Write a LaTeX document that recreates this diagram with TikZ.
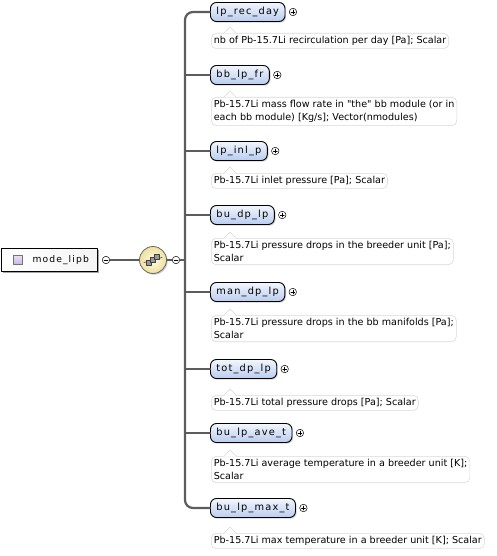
\documentclass[tikz,border=0pt]{standalone}
\usepackage{fontspec}
\setmainfont[Ligatures=TeXOff]{DejaVu Sans}
\newfontfamily\elemfont[LetterSpace=12]{DejaVu Sans}
\usetikzlibrary{shadows,positioning}
\definecolor{elemtop}{HTML}{F2F6FD}
\definecolor{elembot}{HTML}{B9CCEE}
\definecolor{busgray}{HTML}{5C5C5C}
\definecolor{descline}{HTML}{DADADA}
\definecolor{seqin}{HTML}{FFFCE4}
\definecolor{seqout}{HTML}{EEE0A0}
\definecolor{lilac}{HTML}{C4B4E6}
\tikzset{
  elem/.style={draw=black, line width=0.9pt, rounded corners=6pt, top color=elemtop, bottom color=elembot,
    minimum height=19pt, inner xsep=6pt, inner ysep=0pt, font=\elemfont\fontsize{9.8}{10}\selectfont,
    drop shadow={shadow xshift=1.2pt, shadow yshift=-1.2pt, fill=black!35}},
  desc/.style={draw=descline, line width=0.6pt, rounded corners=5pt, fill=white, align=left,
    inner xsep=2.5pt, inner ysep=3pt, font=\fontsize{9.6}{13}\selectfont},
  pm/.style={circle, draw=black, line width=0.5pt, fill=white, minimum size=7.5pt, inner sep=0pt},
  bus/.style={draw=busgray, line width=2.2pt},
  link/.style={draw=busgray, line width=1.3pt}
}
\newcommand{\plusmark}[1]{\draw[line width=0.5pt] ([xshift=-2pt]#1.center) -- ([xshift=2pt]#1.center) ([yshift=-2pt]#1.center) -- ([yshift=2pt]#1.center);}
\newcommand{\minusmark}[1]{\draw[line width=0.5pt] ([xshift=-2pt]#1.center) -- ([xshift=2pt]#1.center);}
\begin{document}
\begin{tikzpicture}[x=1pt, y=-1pt, line join=round, line cap=round]
\useasboundingbox (0,0) rectangle (496,556);
\path
(185,260) coordinate (spine)
;

% root element
\node[draw=black, line width=0.8pt, left color=white, right color=black!4, minimum width=96pt, minimum height=23pt,
  inner sep=0pt, drop shadow={shadow xshift=1.5pt, shadow yshift=-1.5pt, fill=black!70}] (mode) at (49,260) {};
\node[draw=black!55, line width=0.5pt, top color=lilac!40, bottom color=lilac, minimum size=9pt, inner sep=0pt]
  (modeicon) at (18,260) {};
\node[anchor=west, font=\elemfont\fontsize{9.2}{10}\selectfont] (modelabel) at (29,260) {mode\_lipb};
\node[pm] (modemin) at (106,260) {};
\minusmark{modemin}

% sequence compositor
\node[circle, draw=black!60, line width=0.8pt, inner color=seqin, outer color=seqout, minimum size=27pt, inner sep=0pt,
  drop shadow={shadow xshift=1.2pt, shadow yshift=-1.2pt, fill=black!40}] (seq) at (153,260) {};
\draw[black!70, line width=0.7pt] ([xshift=-9pt, yshift=-2.5pt]seq.center) -- ([xshift=9pt, yshift=2.5pt]seq.center);
\foreach \d in {-4,0,4}
  \draw[black!75, fill=black!40, line width=0.5pt] ([xshift={\d*1pt-2.5pt}, yshift={\d*0.7pt-2.5pt}]seq.center) rectangle ++(5pt,5pt);
\node[pm] (seqmin) at (176,260) {};
\minusmark{seqmin}

\draw[link] (modemin) -- (seq);
\draw[link] (seq) -- (seqmin);
\draw[bus] (seqmin.east) -- (spine);

% children
\foreach \n/\t/\y/\d/\ty in {
  rec/lp\_rec\_day/12/{nb of Pb-15.7Li recirculation per day [Pa]; Scalar}/33,
  fr/bb\_lp\_fr/75/{Pb-15.7Li mass flow rate in "the" bb module (or in\\each bb module) [Kg/s]; Vector(nmodules)}/97,
  inl/lp\_inl\_p/151/{Pb-15.7Li inlet pressure [Pa]; Scalar}/173,
  budp/bu\_dp\_lp/215/{Pb-15.7Li pressure drops in the breeder unit [Pa];\\Scalar}/238,
  mandp/man\_dp\_lp/292/{Pb-15.7Li pressure drops in the bb manifolds [Pa];\\Scalar}/315,
  totdp/tot\_dp\_lp/369/{Pb-15.7Li total pressure drops [Pa]; Scalar}/395,
  avet/bu\_lp\_ave\_t/433/{Pb-15.7Li average temperature in a breeder unit [K];\\Scalar}/456,
  maxt/bu\_lp\_max\_t/508/{Pb-15.7Li max temperature in a breeder unit [K]; Scalar}/533}
{
  \node[elem, anchor=west] (\n) at (210,\y) {\t};
  \node[pm, right=3.5pt of \n] (\n plus) {};
  \plusmark{\n plus}
  \node[desc, anchor=north west] (\n desc) at (211,\ty) {\d};
  \fill[white] ([xshift=13pt, yshift=-0.5pt]\n desc.north west) -- ++(6pt,6.5pt) -- ++(6pt,-6.5pt) -- cycle;
  \draw[descline, line width=0.6pt] ([xshift=13pt]\n desc.north west) -- ++(6pt,6pt) -- ++(6pt,-6pt);
}

% connectors to the spine
\draw[bus, rounded corners=8pt] (rec.west) -| (spine);
\draw[bus, rounded corners=8pt] (maxt.west) -| (spine);
\foreach \n in {fr,inl,budp,mandp,totdp,avet}
  \draw[bus] (\n.west) -- (\n.west -| spine);
\end{tikzpicture}
\end{document}
